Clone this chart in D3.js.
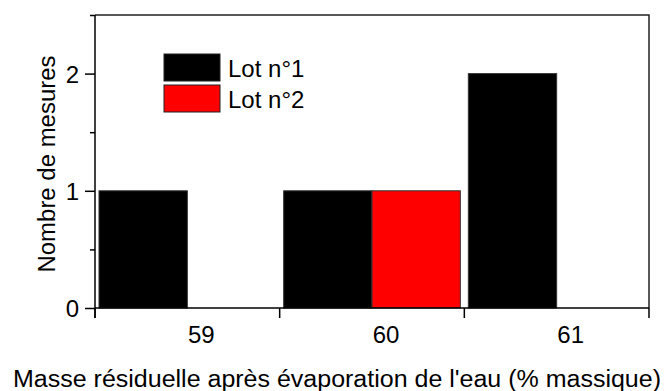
<!DOCTYPE html>
<html><head><meta charset="utf-8">
<script src="https://cdn.jsdelivr.net/npm/d3@7"></script>
<style>body{margin:0;background:#fff}svg{display:block}text{font-family:"Liberation Sans",Arial,sans-serif;fill:#000}</style>
</head><body><svg id="c" width="668" height="391"></svg>
<script>
const categories = ["59", "60", "61"];
const seriesNames = ["Lot n°1", "Lot n°2"];
const lot1 = [1, 1, 2];
const lot2 = [0, 1, 0];
const yTicks = [0, 1, 2];
const yMinorTicks = [0.5, 1.5, 2.5];
const colors = ["#000000", "#ff0000"];
const xTitle = "Masse résiduelle après évaporation de l'eau (% massique)";
const yTitle = "Nombre de mesures";

const svg = d3.select("#c");
const L = 95, R = 649, T = 15, B = 308;
const x = d3.scaleBand().domain(categories).range([L, R]).paddingInner(0).paddingOuter(0);
const bw = x.bandwidth();
const xs = d3.scaleBand().domain(seriesNames).range([4, bw - 4]).padding(0);
const y = d3.scaleLinear().domain([0, 2.5]).range([B, T]);

const series = [lot1, lot2];
series.forEach((vals, si) => {
  svg.append("g").selectAll("rect").data(vals.map((v, i) => ({c: categories[i], v})).filter(d => d.v > 0))
    .join("rect")
    .attr("x", d => x(d.c) + xs(seriesNames[si]))
    .attr("width", xs.bandwidth())
    .attr("y", d => y(d.v))
    .attr("height", d => y(0) - y(d.v))
    .attr("fill", colors[si])
    .attr("stroke", "#333").attr("stroke-width", 1);
});

// frame
svg.append("path").attr("d", `M${L},${T}H${R}V${B}`).attr("fill", "none").attr("stroke", "#222").attr("stroke-width", 1.5);

// y axis
const yAxis = svg.append("g").attr("transform", `translate(${L},0)`)
  .call(d3.axisLeft(y).tickValues(yTicks).tickFormat(d3.format("d")).tickSize(10).tickPadding(6));
svg.append("g").attr("transform", `translate(${L},0)`)
  .call(d3.axisLeft(y).tickValues(yMinorTicks).tickFormat("").tickSize(5))
  .select(".domain").remove();
yAxis.selectAll("text").style("font-size", "24px").attr("font-family", "Liberation Sans, Arial, sans-serif").attr("dy", "0.36em");

// x axis: ticks at bin boundaries, labels at centers
const bounds = [L].concat(categories.map(c => x(c) + bw));
const xg = svg.append("g");
xg.append("line").attr("x1", L).attr("x2", R).attr("y1", B).attr("y2", B).attr("stroke", "#000").attr("stroke-width", 1.5);
xg.selectAll("line.t").data(bounds).join("line").attr("class", "t")
  .attr("x1", d => d).attr("x2", d => d).attr("y1", B).attr("y2", B + 10).attr("stroke", "#000").attr("stroke-width", 1.5);
xg.selectAll("text").data(categories).join("text")
  .attr("x", d => x(d) + bw / 2 + 14).attr("y", 343)
  .attr("text-anchor", "middle").style("font-size", "24px").text(d => d);
yAxis.select(".domain").attr("stroke-width", 1.5).attr("d", `M0,${B + 10}V${T}`);
svg.selectAll(".tick line").attr("stroke-width", 1.5);

// titles
svg.append("text").attr("x", 337).attr("y", 387).attr("text-anchor", "middle").style("font-size", "23px")
  .attr("textLength", 648).attr("lengthAdjust", "spacingAndGlyphs").text(xTitle);
svg.append("text").attr("transform", "translate(55,164) rotate(-90)").attr("text-anchor", "middle").style("font-size", "23px")
  .attr("textLength", 217).attr("lengthAdjust", "spacingAndGlyphs").text(yTitle);

// legend
const lg = svg.append("g");
seriesNames.forEach((n, i) => {
  lg.append("rect").attr("x", 164).attr("y", 54 + i * 31).attr("width", 56).attr("height", 27)
    .attr("fill", colors[i]).attr("stroke", "#222").attr("stroke-width", 1);
  lg.append("text").attr("x", 228).attr("y", 77 + i * 31).style("font-size", "24px").text(n);
});
</script></body></html>
